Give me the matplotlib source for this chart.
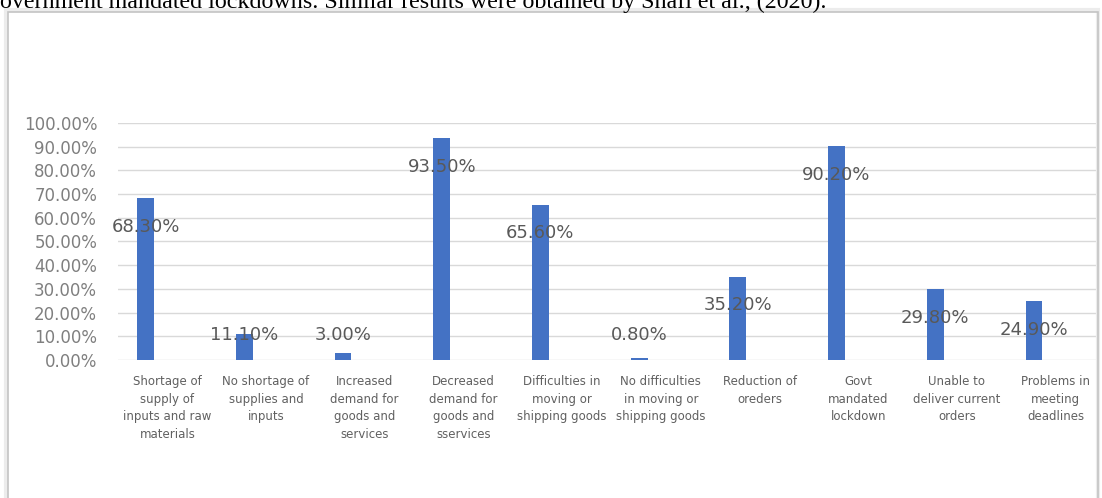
import matplotlib
matplotlib.use('Agg')
import matplotlib.pyplot as plt
from matplotlib.patches import Rectangle
import numpy as np

# categories and survey shares (%)
categories = ['Shortage of\nsupply of\ninputs and raw\nmaterials',
              'No shortage of\nsupplies and\ninputs',
              'Increased\ndemand for\ngoods and\nservices',
              'Decreased\ndemand for\ngoods and\nsservices',
              'Difficulties in\nmoving or\nshipping goods',
              'No difficulties\nin moving or\nshipping goods',
              'Reduction of\noreders',
              'Govt\nmandated\nlockdown',
              'Unable to\ndeliver current\norders',
              'Problems in\nmeeting\ndeadlines']
values = [68.3, 11.1, 3.0, 93.5, 65.6, 0.8, 35.2, 90.2, 29.8, 24.9]
yticks = [0, 10, 20, 30, 40, 50, 60, 70, 80, 90, 100]

W, H = 1102, 498
fig = plt.figure(figsize=(W / 100, H / 100), dpi=100)

# text line of the surrounding document, cut off at the top
fig.text(0.0, 1 - 8 / H, 'overnment mandated lockdowns. Similar results were obtained by Shafi et al., (2020).',
         family='Liberation Serif', fontsize=17.3, color='black', ha='left', va='baseline')

# chart frame with a soft shadow
for off, col, lw in [(2, '#ececec', 3), (0, '#c4c4c4', 1.2)]:
    fig.patches.append(Rectangle(((8 - off) / W, -0.05), (1090 + off) / W, (H - 12 + off) / H + 0.05,
                                 transform=fig.transFigure, fill=False, edgecolor=col, linewidth=lw))

ax = fig.add_axes([118 / W, 1 - 360 / H, (1097 - 118) / W, (360 - 123) / H])
x = np.arange(len(values))
ax.bar(x - 0.22, values, width=0.17, color='#4472C4', zorder=3)

for xi, v in zip(x, values):
    ax.text(xi - 0.22, max(v - 12.2, 10.5), '%.2f%%' % v, ha='center', va='center',
            fontsize=13, color='#595959', zorder=4)

ax.set_xlim(-0.5, -0.5 + 979 / 98.7)
ax.set_ylim(0, 100)
ax.set_yticks(yticks)
ax.set_yticklabels(['%.2f%%' % t for t in yticks])
ax.set_xticks(x)
ax.set_xticklabels(categories)
for lbl in ax.get_xticklabels():
    lbl.set_linespacing(1.45)
ax.tick_params(axis='y', length=0, pad=15, labelsize=12, labelcolor='#7f7f7f')
ax.tick_params(axis='x', length=0, pad=11, labelsize=8.5, labelcolor='#606060')
ax.grid(axis='y', color='#d9d9d9', linewidth=1, zorder=0)
for s in ax.spines.values():
    s.set_visible(False)

fig.savefig('out.png', dpi=100)
